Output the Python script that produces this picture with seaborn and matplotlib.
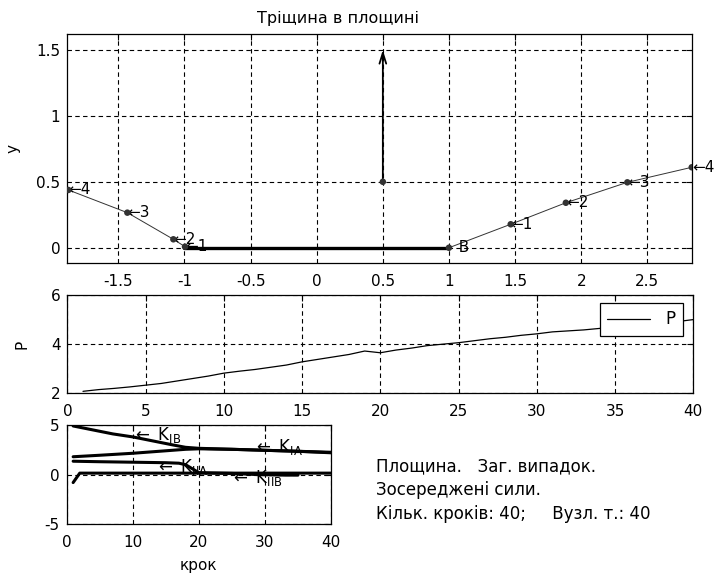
import matplotlib
matplotlib.use("Agg")
import matplotlib.pyplot as plt
import seaborn as sns
import pandas as pd

# ---------------- data ----------------
# crack (top panel)
crack_x = [-1.0, 1.0]
crack_y = [0.0, 0.0]
force_x = [0.5, 0.5]
force_y = [0.5, 1.5]
left_x = [-0.996, -1.084, -1.432, -1.878]
left_y = [0.008, 0.064, 0.266, 0.438]
right_x = [1.0, 1.467, 1.884, 2.349, 2.836]
right_y = [0.0, 0.178, 0.341, 0.496, 0.610]
left_labels = ["1", "2", "3", "4"]
right_labels = ["1", "2", "3", "4"]

# load P per step (middle panel)
steps = list(range(1, 41))
P = [2.08, 2.15, 2.20, 2.26, 2.33, 2.40, 2.50, 2.60, 2.70, 2.82,
     2.90, 2.97, 3.06, 3.15, 3.28, 3.38, 3.48, 3.58, 3.72, 3.65,
     3.76, 3.84, 3.94, 4.00, 4.06, 4.14, 4.22, 4.28, 4.36, 4.42,
     4.50, 4.54, 4.58, 4.64, 4.70, 4.74, 4.80, 4.86, 4.92, 5.00]

# stress intensity factors (bottom panel)
kib_steps = [1, 4, 7, 10, 13, 16, 18, 20, 25, 30, 35, 40]
kib_vals = [4.9, 4.5, 4.1, 3.8, 3.4, 3.0, 2.75, 2.65, 2.55, 2.45, 2.35, 2.25]
kia_steps = [1, 5, 10, 15, 18, 20, 25, 30, 35, 40]
kia_vals = [1.8, 1.95, 2.15, 2.4, 2.55, 2.6, 2.55, 2.45, 2.35, 2.2]
kiia_steps = [1, 5, 10, 15, 17, 18, 19, 20, 25, 29, 33, 35]
kiia_vals = [1.35, 1.3, 1.25, 1.2, 1.15, 1.0, 0.6, 0.2, 0.12, 0.0, -0.05, -0.05]
kiib_steps = [1, 2, 5, 10, 20, 30, 35, 40]
kiib_vals = [-0.8, 0.15, 0.15, 0.15, 0.15, 0.15, 0.15, 0.15]

# ---------------- style ----------------
sns.set_theme(style="white")
plt.rcParams.update({
    "font.family": ["DejaVu Sans"],
    "font.size": 11,
    "axes.unicode_minus": False,
    "axes.edgecolor": "black",
    "axes.linewidth": 0.9,
    "xtick.direction": "in",
    "ytick.direction": "in",
    "xtick.top": True,
    "ytick.right": True,
    "xtick.major.size": 4,
    "ytick.major.size": 4,
    "xtick.major.width": 0.8,
    "ytick.major.width": 0.8,
    "xtick.color": "black",
    "ytick.color": "black",
    "xtick.labelsize": 11,
    "ytick.labelsize": 11,
    "xtick.major.pad": 7.5,
    "ytick.major.pad": 5,
    "text.color": "black",
    "axes.labelcolor": "black",
})
FS = 11
grid_kw = dict(color="black", linestyle=(0, (4, 3)), linewidth=0.8)

fig = plt.figure(figsize=(7.2, 5.76), dpi=100)

# ---------------- top panel ----------------
ax1 = fig.add_axes([0.0935, 0.5429, 0.868, 0.3981])
sns.lineplot(x=crack_x, y=crack_y, ax=ax1, color="black", lw=2.4, sort=False)
sns.lineplot(x=left_x, y=left_y, ax=ax1, color="#333333", lw=0.7, sort=False)
sns.lineplot(x=right_x, y=right_y, ax=ax1, color="#333333", lw=0.7, sort=False)
sns.scatterplot(x=left_x + right_x + [force_x[0]], y=left_y + right_y + [force_y[0]],
                ax=ax1, color="#333333", s=22, edgecolor="none", zorder=5)
ax1.annotate("", xy=(force_x[1], force_y[1]), xytext=(force_x[0], force_y[0]),
             arrowprops=dict(arrowstyle="->,head_length=0.7,head_width=0.22",
                             lw=1.3, color="black", shrinkA=0, shrinkB=0))
for x, y, t in zip(left_x, left_y, left_labels):
    ax1.text(x, y, "\u2190" + t, fontsize=FS, ha="left", va="center")
for x, y, t in zip(right_x[1:], right_y[1:], right_labels):
    ax1.text(x, y, "\u2190" + t, fontsize=FS, ha="left", va="center")
ax1.text(right_x[0], right_y[0], "  B", fontsize=FS, ha="left", va="center")
ax1.set_xlim(-1.886, 2.840)
ax1.set_ylim(-0.118, 1.621)
ax1.set_xticks([-1.5, -1, -0.5, 0, 0.5, 1, 1.5, 2, 2.5])
ax1.set_xticklabels(["-1.5", "-1", "-0.5", "0", "0.5", "1", "1.5", "2", "2.5"])
ax1.set_yticks([0, 0.5, 1, 1.5])
ax1.set_yticklabels(["0", "0.5", "1", "1.5"])
ax1.grid(True, **grid_kw)
ax1.set_title("Тріщина в площині", fontsize=11.5, pad=8, x=0.433)
ax1.set_ylabel("y", fontsize=FS, labelpad=11)

# ---------------- middle panel ----------------
ax2 = fig.add_axes([0.0935, 0.3172, 0.8694, 0.1706])
sns.lineplot(x=steps, y=P, ax=ax2, color="black", lw=0.9, label="P")
ax2.set_xlim(0, 40)
ax2.set_ylim(2, 6)
ax2.set_xticks(range(0, 41, 5))
ax2.set_yticks([2, 4, 6])
ax2.grid(True, **grid_kw)
ax2.set_ylabel("P", fontsize=FS, labelpad=15)
leg = ax2.legend(loc="upper right", bbox_to_anchor=(0.9835, 0.919), borderaxespad=0,
                 frameon=True, fancybox=False, edgecolor="black", framealpha=1,
                 fontsize=12, handlelength=2.6, borderpad=0.45, handletextpad=0.9)
leg.get_frame().set_linewidth(0.9)

# ---------------- bottom panel ----------------
ax3 = fig.add_axes([0.0924, 0.0898, 0.3674, 0.1724])
for s_, v_ in [(kib_steps, kib_vals), (kia_steps, kia_vals),
               (kiia_steps, kiia_vals), (kiib_steps, kiib_vals)]:
    sns.lineplot(x=s_, y=v_, ax=ax3, color="black", lw=2.2, sort=False)
ax3.set_xlim(0, 40)
ax3.set_ylim(-5, 5)
ax3.set_xticks([0, 10, 20, 30, 40])
ax3.set_yticks([-5, 0, 5])
ax3.grid(True, **grid_kw)
ax3.set_xlabel("крок", fontsize=FS, labelpad=6)
k_labels = [(9.9, 4.0, "IB"), (28.2, 2.75, "IA"), (13.4, 0.75, "IIA"), (24.7, -0.38, "IIB")]
for x, y, sub in k_labels:
    ax3.text(x, y, r"$\mathregular{\leftarrow\ K_{%s}}$" % sub, fontsize=FS + 1,
             ha="left", va="center")

# ---------------- info text ----------------
info = ["Площина.   Заг. випадок.", "Зосереджені сили.", "Кільк. кроків: 40;     Вузл. т.: 40"]
for i, line in enumerate(info):
    fig.text(376 / 720, 1 - (466 + 24 * i) / 576, line, fontsize=12, ha="left", va="center")

fig.savefig("out.png", dpi=100)
